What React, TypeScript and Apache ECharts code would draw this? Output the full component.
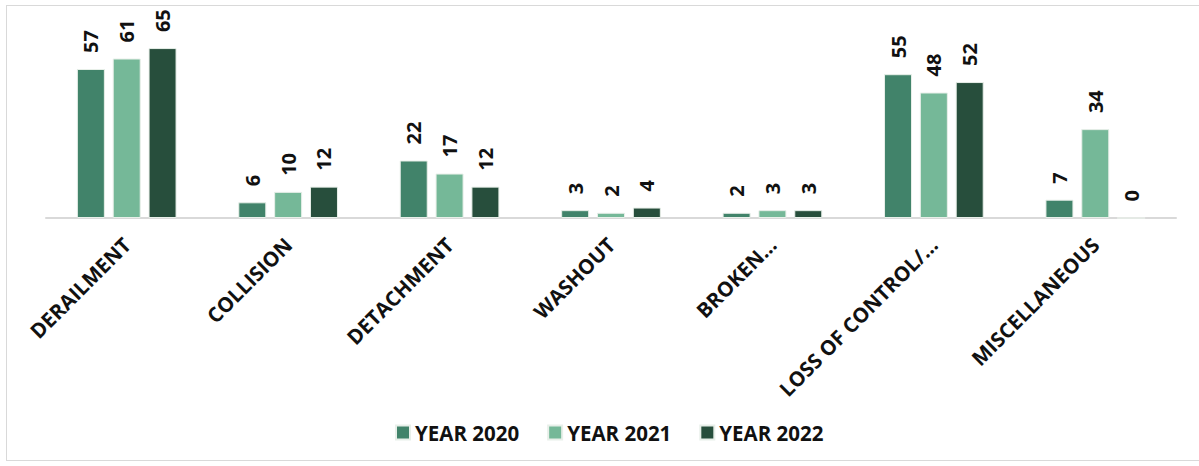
import React, { useEffect, useRef } from "react";
import * as echarts from "echarts";

const categories = [
  "DERAILMENT",
  "COLLISION",
  "DETACHMENT",
  "WASHOUT",
  "BROKEN…",
  "LOSS OF CONTROL/…",
  "MISCELLANEOUS",
];
const seriesNames = ["YEAR 2020", "YEAR 2021", "YEAR 2022"];
const year2020 = [57, 6, 22, 3, 2, 55, 7];
const year2021 = [61, 10, 17, 2, 3, 48, 34];
const year2022 = [65, 12, 12, 4, 3, 52, 0];
const colors = ["#41836A", "#75B898", "#274E3C"];

const FONT = "'Open Sans', 'Noto Sans', sans-serif";

export default function App() {
  const ref = useRef<HTMLDivElement>(null);
  useEffect(() => {
    if (!ref.current) return;
    const chart = echarts.init(ref.current, null, { renderer: "svg" });
    const data = [year2020, year2021, year2022];
    chart.setOption({
      animation: false,
      legend: {
        data: seriesNames,
        top: 412,
        left: 384,
        itemWidth: 14,
        itemHeight: 14,
        itemGap: 28,
        icon: "rect",
        textStyle: {
          fontFamily: FONT,
          fontWeight: "bold",
          fontSize: 20.5,
          color: "#111",
        },
      },
      grid: { left: 40, right: 23, top: 30, bottom: 248 },
      xAxis: {
        type: "category",
        data: categories,
        axisLine: { lineStyle: { color: "#d9d9d9", width: 2 } },
        axisTick: { show: false },
        axisLabel: {
          rotate: 45,
          interval: 0,
          margin: 23,
          fontFamily: FONT,
          fontWeight: "bold",
          fontSize: 20.5,
          color: "#111",
        },
      },
      yAxis: {
        type: "value",
        min: 0,
        max: 70,
        show: false,
        splitLine: { show: false },
      },
      series: data.map((d, i) => ({
        name: seriesNames[i],
        type: "bar",
        data: d,
        barWidth: 28,
        barGap: "28%",
        itemStyle: { color: colors[i], borderColor: "#e8efe9", borderWidth: 1 },
        label: {
          show: true,
          position: "top",
          rotate: 90,
          align: "left",
          verticalAlign: "middle",
          distance: 16,
          fontFamily: FONT,
          fontWeight: "bold",
          fontSize: 20,
          color: "#111",
        },
      })),
    });
    return () => chart.dispose();
  }, []);
  return (
    <div style={{ position: "absolute", left: 0, top: 0, width: 1199, height: 466, background: "#fff", overflow: "hidden" }}>
      <div
        style={{
          position: "absolute",
          left: 6,
          top: 5,
          width: 1220,
          height: 456,
          border: "1.5px solid #d9d9d9",
          boxSizing: "border-box",
        }}
      />
      <div ref={ref} style={{ position: "absolute", left: 6, top: 5, width: 1193, height: 461 }} />
    </div>
  );
}
